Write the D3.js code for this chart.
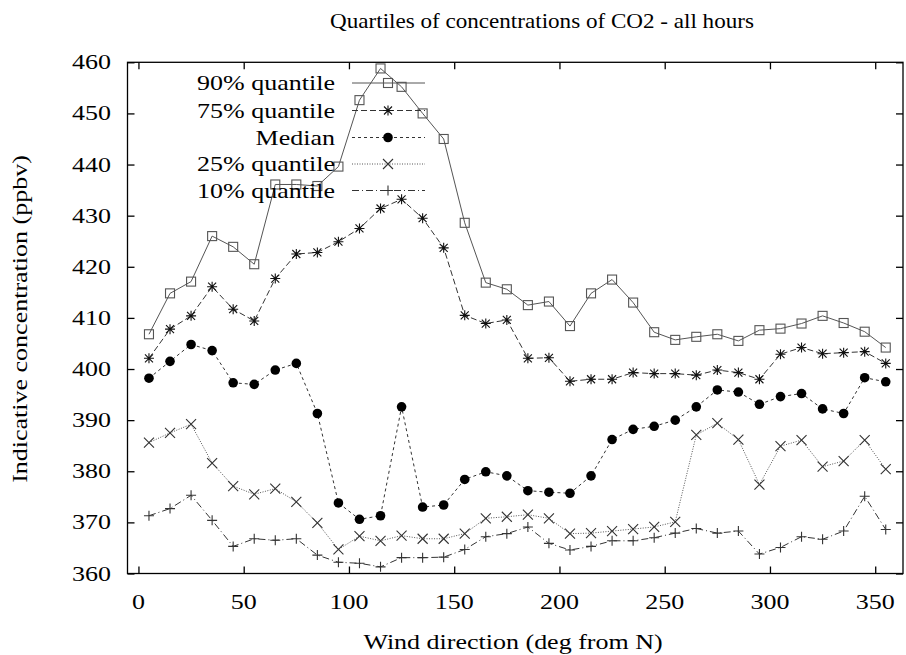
<!DOCTYPE html>
<html>
<head>
<meta charset="utf-8">
<script src="https://cdn.jsdelivr.net/npm/d3@7"></script>
<style>
  body { margin: 0; background: #fff; }
  text { font-family: "Liberation Serif", "Times New Roman", Times, serif; fill: #000; }
</style>
</head>
<body>
<div id="chart"></div>
<script>
// wind direction bins (deg from N)
var directions = [5, 15, 25, 35, 45, 55, 65, 75, 85, 95, 105, 115, 125, 135, 145, 155, 165, 175,
                  185, 195, 205, 215, 225, 235, 245, 255, 265, 275, 285, 295, 305, 315, 325, 335, 345, 355];

var q90 = [406.8, 414.8, 417.1, 426.0, 423.9, 420.5, 436.1, 436.1, 435.8, 439.6, 452.6, 458.8,
           455.2, 450.0, 445.0, 428.6, 416.9, 415.6, 412.5, 413.2, 408.4, 414.8, 417.5, 413.0,
           407.2, 405.7, 406.3, 406.8, 405.5, 407.6, 407.9, 408.9, 410.4, 409.0, 407.3, 404.2];
var q75 = [402.1, 407.8, 410.4, 416.1, 411.7, 409.4, 417.7, 422.5, 422.8, 424.9, 427.5, 431.4,
           433.2, 429.5, 423.7, 410.5, 408.9, 409.6, 402.1, 402.2, 397.6, 398.0, 398.0, 399.3,
           399.1, 399.1, 398.8, 399.8, 399.3, 398.0, 402.9, 404.2, 403.0, 403.2, 403.4, 401.1];
var median = [398.2, 401.5, 404.8, 403.6, 397.3, 397.0, 399.8, 401.1, 391.3, 373.8, 370.6, 371.3,
              392.6, 373.0, 373.4, 378.4, 379.9, 379.1, 376.2, 375.9, 375.7, 379.1, 386.2, 388.2,
              388.8, 390.0, 392.6, 395.9, 395.5, 393.1, 394.6, 395.2, 392.2, 391.3, 398.3, 397.5];
var q25 = [385.6, 387.5, 389.2, 381.6, 377.1, 375.5, 376.6, 374.0, 369.9, 364.7, 367.3, 366.4,
           367.4, 366.8, 366.8, 367.8, 370.8, 371.1, 371.5, 370.8, 367.8, 367.9, 368.3, 368.7,
           369.1, 370.1, 387.1, 389.4, 386.2, 377.4, 384.9, 386.1, 380.9, 382.0, 386.1, 380.4];
var q10 = [371.3, 372.7, 375.3, 370.4, 365.3, 366.8, 366.5, 366.8, 363.6, 362.2, 362.0, 361.3,
           363.1, 363.1, 363.2, 364.7, 367.2, 367.8, 369.1, 365.9, 364.6, 365.3, 366.4, 366.4,
           367.0, 367.9, 368.8, 367.9, 368.3, 363.8, 365.1, 367.2, 366.7, 368.3, 375.1, 368.6];

var seriesNames = ["90% quantile", "75% quantile", "Median", "25% quantile", "10% quantile"];
var xTicks = [0, 50, 100, 150, 200, 250, 300, 350];
var yTicks = [360, 370, 380, 390, 400, 410, 420, 430, 440, 450, 460];

var W = 906, H = 655;
var plot = {left: 127.5, right: 903, top: 62.3, bottom: 573.5};
var SX = 1.3; // glyphs in the original are stretched sideways

var svg = d3.select("#chart").append("svg")
  .attr("width", W).attr("height", H);

var x = d3.scaleLinear().domain([-5.2, 363.2]).range([plot.left, plot.right]);
var y = d3.scaleLinear().domain([360, 460]).range([plot.bottom, plot.top]);

// stretched text helper
function label(px, py, str, size, anchor, rot, sx) {
  var t = "translate(" + px + "," + py + ")" + (rot ? " rotate(" + rot + ")" : "") + " scale(" + (sx || SX) + ",1)";
  return svg.append("text")
    .attr("transform", t)
    .attr("text-anchor", anchor)
    .style("font-size", size + "px")
    .text(str);
}

// frame
svg.append("rect")
  .attr("x", plot.left).attr("y", plot.top)
  .attr("width", plot.right - plot.left).attr("height", plot.bottom - plot.top)
  .attr("fill", "none").attr("stroke", "#000").attr("stroke-width", 1.3);

// axes with inward ticks, mirrored
var tk = 7;
svg.append("g").attr("transform", "translate(0," + plot.bottom + ")")
  .call(d3.axisBottom(x).tickValues(xTicks).tickSize(-tk).tickFormat(""))
  .call(function(g){ g.select(".domain").remove(); });
svg.append("g").attr("transform", "translate(0," + plot.top + ")")
  .call(d3.axisTop(x).tickValues(xTicks).tickSize(-tk).tickFormat(""))
  .call(function(g){ g.select(".domain").remove(); });
svg.append("g").attr("transform", "translate(" + plot.left + ",0)")
  .call(d3.axisLeft(y).tickValues(yTicks).tickSize(-tk).tickFormat(""))
  .call(function(g){ g.select(".domain").remove(); });
svg.append("g").attr("transform", "translate(" + plot.right + ",0)")
  .call(d3.axisRight(y).tickValues(yTicks).tickSize(-tk).tickFormat(""))
  .call(function(g){ g.select(".domain").remove(); });
svg.selectAll(".tick line").attr("stroke", "#000").attr("stroke-width", 1.3);

xTicks.forEach(function(v){ label(x(v), 609, v, 20, "middle"); });
yTicks.forEach(function(v){ label(111, y(v) + 7, v, 20, "end"); });

label(542, 28, "Quartiles of concentrations of CO2 - all hours", 21, "middle", 0, 1.1);
label(513, 649, "Wind direction (deg from N)", 20, "middle");
label(27, 319, "Indicative concentration (ppbv)", 20, "middle", -90);

// marker shapes
function drawMarker(g, type, color) {
  if (type === "square") {
    g.append("rect").attr("x", -4.5).attr("y", -4.5).attr("width", 9).attr("height", 9)
      .attr("fill", "none").attr("stroke", color).attr("stroke-width", 1.1);
  } else if (type === "circle") {
    g.append("circle").attr("r", 4.8).attr("fill", color);
  } else if (type === "star") {
    g.append("path").attr("d", "M-5,0H5M0,-5V5M-4,-4L4,4M-4,4L4,-4")
      .attr("stroke", color).attr("stroke-width", 1.1);
  } else if (type === "cross") {
    g.append("path").attr("d", "M-5,-5L5,5M-5,5L5,-5")
      .attr("stroke", color).attr("stroke-width", 1.1);
  } else if (type === "plus") {
    g.append("path").attr("d", "M-5,0H5M0,-5V5")
      .attr("stroke", color).attr("stroke-width", 1.1);
  }
}

var series = [
  {name: seriesNames[0], values: q90, marker: "square", dash: null, line: "#555", mark: "#555"},
  {name: seriesNames[1], values: q75, marker: "star", dash: "6,3", line: "#333", mark: "#111"},
  {name: seriesNames[2], values: median, marker: "circle", dash: "3,3", line: "#333", mark: "#000"},
  {name: seriesNames[3], values: q25, marker: "cross", dash: "1,1.5", line: "#555", mark: "#333"},
  {name: seriesNames[4], values: q10, marker: "plus", dash: "7,3,1,3", line: "#333", mark: "#333"}
];

var line = d3.line()
  .x(function(d){ return x(d[0]); })
  .y(function(d){ return y(d[1]); });

// legend geometry
var legY = [83, 110.5, 137.5, 164, 190.5];

series.forEach(function(s, i) {
  var pts = directions.map(function(dir, k){ return [dir, s.values[k]]; });
  svg.append("path")
    .datum(pts)
    .attr("d", line)
    .attr("fill", "none")
    .attr("stroke", s.line)
    .attr("stroke-width", 1)
    .attr("stroke-dasharray", s.dash);
  pts.forEach(function(p){
    var g = svg.append("g").attr("transform", "translate(" + x(p[0]) + "," + y(p[1]) + ")");
    drawMarker(g, s.marker, s.mark);
  });

  // legend entry
  label(335, legY[i] + 7, s.name, 20, "end");
  svg.append("line")
    .attr("x1", 352).attr("x2", 425).attr("y1", legY[i]).attr("y2", legY[i])
    .attr("stroke", s.line).attr("stroke-width", 1).attr("stroke-dasharray", s.dash);
  drawMarker(svg.append("g").attr("transform", "translate(388," + legY[i] + ")"), s.marker, s.mark);
});
</script>
</body>
</html>
